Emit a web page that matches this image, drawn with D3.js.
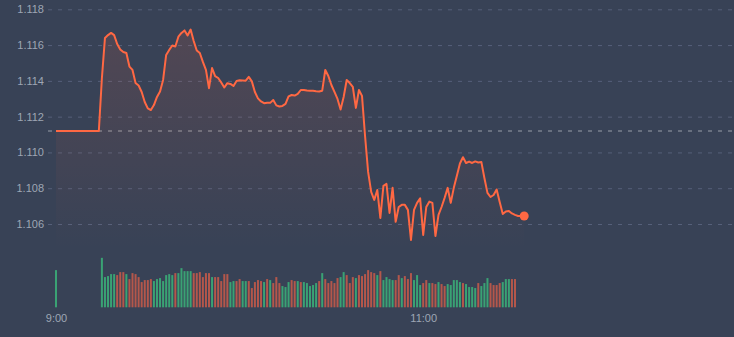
<!DOCTYPE html>
<head>
<meta charset="utf-8">
<title>Intraday</title>
<style>
body {
  margin: 0;
  background: #384256;
}
text {
  font: 11px "Liberation Sans", Arial, sans-serif;
  fill: #9ea6b4;
}
</style>
<script type="text/javascript" src="https://cdn.jsdelivr.net/npm/d3@7/dist/d3.min.js" charset="utf-8"></script>
</head>
<body>
<script>
// one price per minute, starting 09:00
var priceStart = "09:00";
var prices = [
  1.1112, 1.1112, 1.1112, 1.1112, 1.1112, 1.1112, 1.1112, 1.1112, 1.1112, 1.1112,
  1.1112, 1.1112, 1.1112, 1.1112, 1.1112,
  1.11416, 1.1164, 1.11656, 1.11668, 1.11656, 1.11606, 1.11575, 1.11561, 1.11556, 1.1148,
  1.11461, 1.11388, 1.11374, 1.11338, 1.11282, 1.11246, 1.11237, 1.11265, 1.1131, 1.11341,
  1.11405, 1.11545, 1.11573, 1.11598, 1.11592, 1.11647, 1.11668, 1.11682, 1.11654, 1.11687,
  1.11623, 1.1157, 1.11556, 1.11506, 1.11461, 1.11359, 1.11472, 1.11427, 1.11416, 1.11391,
  1.11363, 1.11387, 1.11383, 1.11371, 1.11399, 1.11403, 1.11402, 1.11401, 1.11422, 1.11397,
  1.11338, 1.11302, 1.11285, 1.11275, 1.11278, 1.11277, 1.11293, 1.11263, 1.11257, 1.1126,
  1.11271, 1.11313, 1.11321, 1.11318, 1.11327, 1.11349, 1.11349, 1.11346, 1.11345, 1.11345,
  1.11342, 1.11341, 1.11345, 1.11461, 1.11427, 1.11377, 1.11338, 1.11299, 1.1124, 1.1131,
  1.11405, 1.11388, 1.11366, 1.11249, 1.11349, 1.11316, 1.11092, 1.10891, 1.10779, 1.10735,
  1.1079, 1.10634, 1.10813, 1.10824, 1.10662, 1.10802, 1.10612, 1.10695, 1.10707, 1.10707,
  1.10679, 1.10511, 1.10679, 1.10718, 1.10743, 1.10539, 1.10695, 1.10725, 1.10718, 1.10533,
  1.10651, 1.10695, 1.10746, 1.10802, 1.10718, 1.10802, 1.10869, 1.10938, 1.10973, 1.10941,
  1.10949, 1.10941, 1.1095, 1.10944, 1.10947, 1.10857, 1.10774, 1.10751, 1.10762, 1.10793,
  1.10723, 1.10656, 1.1067, 1.10673, 1.10659, 1.10651, 1.10645, 1.10645, 1.10645
];
var prevClose = 1.1112;

// volume bars: the 09:00 print, then one per minute from 09:15
var volOpenTime = "09:00";
var volOpen = 1120;
var volStart = "09:15";
var volumes = [
  1490, 910, 940, 1000, 1000, 970, 1060, 1060, 1000, 850,
  1030, 1000, 910, 760, 820, 820, 850, 790, 850, 880,
  790, 970, 1000, 970, 1030, 1030, 1180, 1090, 1090, 1090,
  1030, 1030, 1060, 910, 1030, 1030, 910, 910, 910, 790,
  1000, 1000, 760, 790, 790, 850, 790, 790, 790, 580,
  760, 820, 790, 760, 850, 820, 730, 910, 730, 640,
  610, 760, 820, 790, 790, 760, 760, 730, 640, 670,
  730, 790, 1030, 850, 730, 790, 730, 880, 910, 1060,
  970, 730, 910, 880, 970, 940, 1000, 1120, 1060, 1030,
  970, 1090, 820, 910, 850, 820, 820, 970, 880, 940,
  850, 1030, 820, 970, 670, 730, 820, 730, 730, 700,
  760, 700, 640, 700, 670, 820, 820, 760, 730, 700,
  610, 610, 580, 730, 640, 730, 880, 730, 670, 670,
  730, 760, 850, 850, 850, 850
];
// u = up (green), d = down (red)
var volDir = "uuuuudddudddddddduuuuuuuduuuuudddddduddddduudduudddddududdduuuddud" +
             "uuuuududdddduudddudddddduduuuudduddduuudduddudduuuuuduuuuduuudddduuudduddd";

var width = 734, height = 337;
var up = "#3aa274", down = "#b4574b", lineColor = "#ff6843";

var parse = d3.timeParse("%H:%M");
var t0 = parse(priceStart);
var minute = function(base, i) { return d3.timeMinute.offset(parse(base), i); };

var x = d3.scaleTime()
  .domain([t0, d3.timeMinute.offset(t0, 222)])
  .range([56, 56 + 222 * 3.06]);
var y = d3.scaleLinear().domain([1.106, 1.118]).range([224, 9.3]);
var yVol = d3.scaleLinear().domain([0, 1500]).range([307.3, 257.5]);

var yTicks = [1.106, 1.108, 1.110, 1.112, 1.114, 1.116, 1.118];
var xTicks = ["9:00", "11:00"];

var svg = d3.select("body").append("svg")
  .attr("width", width)
  .attr("height", height);

svg.append("rect").attr("width", width).attr("height", height).attr("fill", "#384256");

var defs = svg.append("defs");
var grad = defs.append("linearGradient")
  .attr("id", "areaFill")
  .attr("gradientUnits", "userSpaceOnUse")
  .attr("x1", 0).attr("x2", 0)
  .attr("y1", y(1.117)).attr("y2", 250);
grad.append("stop").attr("offset", "0%").attr("stop-color", lineColor).attr("stop-opacity", 0.13);
grad.append("stop").attr("offset", "100%").attr("stop-color", lineColor).attr("stop-opacity", 0.0);

// grid
var yAxis = d3.axisLeft(y)
  .tickValues(yTicks)
  .tickSize(-(width - 48))
  .tickPadding(4)
  .tickFormat(d3.format(".3f"));

var gy = svg.append("g").attr("transform", "translate(48,0)").call(yAxis);
gy.select(".domain").remove();
gy.selectAll(".tick line")
  .attr("stroke", "#56607a")
  .attr("stroke-dasharray", "4,6");
gy.selectAll(".tick text")
  .attr("fill", "#9ea6b4")
  .style("font-size", "11px");

// previous close
svg.append("line")
  .attr("x1", 48).attr("x2", width)
  .attr("y1", y(prevClose)).attr("y2", y(prevClose))
  .attr("stroke", "#68707f")
  .attr("stroke-width", 2)
  .attr("stroke-dasharray", "4,6");

// price area + line
var pts = prices.map(function(p, i) { return { t: d3.timeMinute.offset(t0, i), v: p }; });

var area = d3.area()
  .x(function(d) { return x(d.t); })
  .y0(250)
  .y1(function(d) { return y(d.v); });

svg.append("path")
  .datum(pts)
  .attr("d", area)
  .attr("fill", "url(#areaFill)");

var line = d3.line()
  .x(function(d) { return x(d.t); })
  .y(function(d) { return y(d.v); });

svg.append("path")
  .datum(pts)
  .attr("d", line)
  .attr("fill", "none")
  .attr("stroke", lineColor)
  .attr("stroke-width", 2)
  .attr("stroke-linejoin", "round");

var last = pts[pts.length - 1];
svg.append("circle")
  .attr("cx", x(last.t))
  .attr("cy", y(last.v))
  .attr("r", 4.5)
  .attr("fill", lineColor);

// volume
var bars = [{ t: parse(volOpenTime), v: volOpen, dir: "u" }];
volumes.forEach(function(v, i) {
  bars.push({ t: minute(volStart, i), v: v, dir: volDir.charAt(i) });
});

svg.append("g").selectAll("rect")
  .data(bars)
  .enter()
  .append("rect")
  .attr("x", function(d) { return x(d.t) - 1; })
  .attr("width", 2)
  .attr("y", function(d) { return yVol(d.v); })
  .attr("height", function(d) { return yVol(0) - yVol(d.v); })
  .attr("fill", function(d) { return d.dir == "u" ? up : down; });

// time axis
var xAxis = d3.axisBottom(x)
  .tickValues(xTicks.map(function(s) { return parse(s); }))
  .tickSize(0)
  .tickPadding(0)
  .tickFormat(d3.timeFormat("%-H:%M"));

var gx = svg.append("g").attr("transform", "translate(0,314)").call(xAxis);
gx.select(".domain").remove();
gx.selectAll(".tick text")
  .attr("fill", "#9ea6b4")
  .style("font-size", "11px");
</script>
</body>
